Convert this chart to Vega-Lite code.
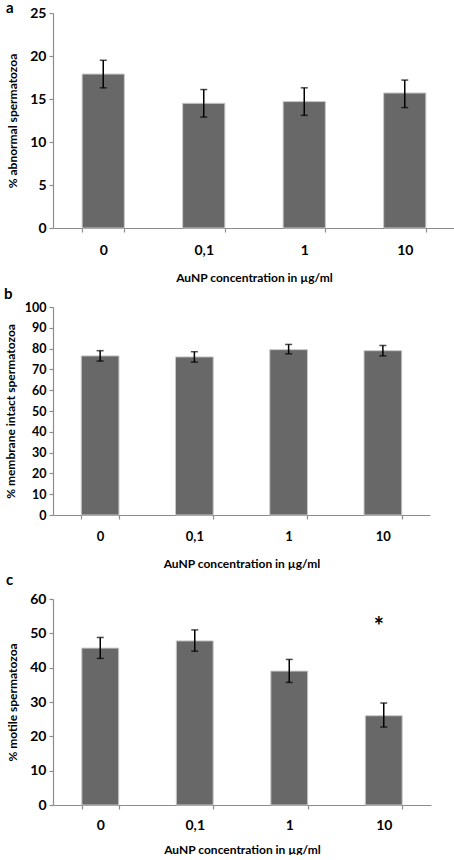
{
  "$schema": "https://vega.github.io/schema/vega-lite/v6.json",
  "padding": {"left": 4, "top": 1, "right": 0, "bottom": 0},
  "spacing": 4,
  "config": {
    "view": {"stroke": null},
    "font": "Lato",
    "axis": {
      "labelFont": "Lato", "labelFontWeight": "bold", "labelColor": "#000000",
      "titleFont": "Lato", "titleFontWeight": "bold", "titleColor": "#000000",
      "domainColor": "#8c8c8c", "tickColor": "#8c8c8c", "grid": false,
      "tickSize": 4, "domainWidth": 1.2, "tickWidth": 1.2, "labelOverlap": false
    },
    "title": {"font": "Lato", "fontWeight": "bold", "fontSize": 15, "anchor": "start", "frame": "bounds", "color": "#000000"}
  },
  "datasets": {
    "a": [
      {"conc": "0", "mean": 17.9, "lo": 16.3, "hi": 19.5},
      {"conc": "0,1", "mean": 14.5, "lo": 12.9, "hi": 16.1},
      {"conc": "1", "mean": 14.7, "lo": 13.1, "hi": 16.3},
      {"conc": "10", "mean": 15.7, "lo": 14.0, "hi": 17.2}
    ],
    "b": [
      {"conc": "0", "mean": 76.5, "lo": 74.0, "hi": 79.0},
      {"conc": "0,1", "mean": 76.0, "lo": 73.5, "hi": 78.5},
      {"conc": "1", "mean": 79.5, "lo": 77.5, "hi": 82.0},
      {"conc": "10", "mean": 79.0, "lo": 76.5, "hi": 81.5}
    ],
    "c": [
      {"conc": "0", "mean": 45.7, "lo": 42.7, "hi": 48.8},
      {"conc": "0,1", "mean": 47.8, "lo": 44.8, "hi": 51.0},
      {"conc": "1", "mean": 39.0, "lo": 35.7, "hi": 42.4},
      {"conc": "10", "mean": 26.0, "lo": 22.7, "hi": 29.7}
    ],
    "star": [{"conc": "10", "y": 53, "label": "*"}]
  },
  "vconcat": [
    {
      "title": {"text": "a", "offset": -10},
      "width": 402, "height": 215,
      "data": {"name": "a"},
      "encoding": {
        "x": {"field": "conc", "type": "nominal", "sort": ["0", "0,1", "1", "10"],
          "scale": {"paddingInner": 0.58, "paddingOuter": 0.29},
          "axis": {"title": "AuNP concentration in µg/ml", "titleFontSize": 12, "labelFontSize": 14, "labelAngle": 0, "tickBand": "extent", "labelPadding": 11, "titlePadding": 15}}
      },
      "layer": [
        {"mark": {"type": "bar", "color": "#686868", "stroke": "#c8c8c8", "strokeWidth": 1},
          "encoding": {"y": {"field": "mean", "type": "quantitative", "scale": {"domain": [0, 25], "nice": false},
            "axis": {"title": "% abnormal spermatozoa", "titleFontSize": 12, "labelFontSize": 14, "values": [0, 5, 10, 15, 20, 25], "labelOverlap": false, "labelPadding": 3, "minExtent": 24, "maxExtent": 24, "titlePadding": 10}}}},
        {"mark": {"type": "rule", "color": "#000000", "strokeWidth": 1.5},
          "encoding": {"y": {"field": "lo", "type": "quantitative",
            "axis": {"title": "% abnormal spermatozoa", "titleFontSize": 12, "labelFontSize": 14, "values": [0, 5, 10, 15, 20, 25], "labelOverlap": false, "labelPadding": 3, "minExtent": 24, "maxExtent": 24, "titlePadding": 10}}, "y2": {"field": "hi"}}},
        {"mark": {"type": "tick", "color": "#000000", "thickness": 1.5, "size": 7},
          "encoding": {"y": {"field": "lo", "type": "quantitative",
            "axis": {"title": "% abnormal spermatozoa", "titleFontSize": 12, "labelFontSize": 14, "values": [0, 5, 10, 15, 20, 25], "labelOverlap": false, "labelPadding": 3, "minExtent": 24, "maxExtent": 24, "titlePadding": 10}}}},
        {"mark": {"type": "tick", "color": "#000000", "thickness": 1.5, "size": 7},
          "encoding": {"y": {"field": "hi", "type": "quantitative",
            "axis": {"title": "% abnormal spermatozoa", "titleFontSize": 12, "labelFontSize": 14, "values": [0, 5, 10, 15, 20, 25], "labelOverlap": false, "labelPadding": 3, "minExtent": 24, "maxExtent": 24, "titlePadding": 10}}}}
      ]
    },
    {
      "title": {"text": "b", "offset": -1},
      "width": 377, "height": 208,
      "data": {"name": "b"},
      "encoding": {
        "x": {"field": "conc", "type": "nominal", "sort": ["0", "0,1", "1", "10"],
          "scale": {"paddingInner": 0.6, "paddingOuter": 0.3},
          "axis": {"title": "AuNP concentration in µg/ml", "titleFontSize": 12, "labelFontSize": 13, "labelAngle": 0, "tickBand": "extent", "labelPadding": 11, "titlePadding": 15}}
      },
      "layer": [
        {"mark": {"type": "bar", "color": "#686868", "stroke": "#c8c8c8", "strokeWidth": 1},
          "encoding": {"y": {"field": "mean", "type": "quantitative", "scale": {"domain": [0, 100], "nice": false},
            "axis": {"title": "% membrane intact spermatozoa", "titleFontSize": 12, "labelFontSize": 12.5, "values": [0, 10, 20, 30, 40, 50, 60, 70, 80, 90, 100], "labelOverlap": false, "labelPadding": 3, "minExtent": 28, "maxExtent": 28, "titlePadding": 8}}}},
        {"mark": {"type": "rule", "color": "#000000", "strokeWidth": 1.5},
          "encoding": {"y": {"field": "lo", "type": "quantitative",
            "axis": {"title": "% membrane intact spermatozoa", "titleFontSize": 12, "labelFontSize": 12.5, "values": [0, 10, 20, 30, 40, 50, 60, 70, 80, 90, 100], "labelOverlap": false, "labelPadding": 3, "minExtent": 28, "maxExtent": 28, "titlePadding": 8}}, "y2": {"field": "hi"}}},
        {"mark": {"type": "tick", "color": "#000000", "thickness": 1.5, "size": 7},
          "encoding": {"y": {"field": "lo", "type": "quantitative",
            "axis": {"title": "% membrane intact spermatozoa", "titleFontSize": 12, "labelFontSize": 12.5, "values": [0, 10, 20, 30, 40, 50, 60, 70, 80, 90, 100], "labelOverlap": false, "labelPadding": 3, "minExtent": 28, "maxExtent": 28, "titlePadding": 8}}}},
        {"mark": {"type": "tick", "color": "#000000", "thickness": 1.5, "size": 7},
          "encoding": {"y": {"field": "hi", "type": "quantitative",
            "axis": {"title": "% membrane intact spermatozoa", "titleFontSize": 12, "labelFontSize": 12.5, "values": [0, 10, 20, 30, 40, 50, 60, 70, 80, 90, 100], "labelOverlap": false, "labelPadding": 3, "minExtent": 28, "maxExtent": 28, "titlePadding": 8}}}}
      ]
    },
    {
      "title": {"text": "c", "offset": 4},
      "width": 378, "height": 206,
      "encoding": {
        "x": {"field": "conc", "type": "nominal", "sort": ["0", "0,1", "1", "10"],
          "scale": {"paddingInner": 0.61, "paddingOuter": 0.305},
          "axis": {"title": "AuNP concentration in µg/ml", "titleFontSize": 12, "labelFontSize": 14, "labelAngle": 0, "tickBand": "extent", "labelPadding": 9, "titlePadding": 12}}
      },
      "layer": [
        {"data": {"name": "c"}, "mark": {"type": "bar", "color": "#686868", "stroke": "#c8c8c8", "strokeWidth": 1},
          "encoding": {"y": {"field": "mean", "type": "quantitative", "scale": {"domain": [0, 60], "nice": false},
            "axis": {"title": "% motile spermatozoa", "titleFontSize": 12, "labelFontSize": 14, "values": [0, 10, 20, 30, 40, 50, 60], "labelOverlap": false, "labelPadding": 3, "minExtent": 24, "maxExtent": 24, "titlePadding": 10}}}},
        {"data": {"name": "c"}, "mark": {"type": "rule", "color": "#000000", "strokeWidth": 1.5},
          "encoding": {"y": {"field": "lo", "type": "quantitative",
            "axis": {"title": "% motile spermatozoa", "titleFontSize": 12, "labelFontSize": 14, "values": [0, 10, 20, 30, 40, 50, 60], "labelOverlap": false, "labelPadding": 3, "minExtent": 24, "maxExtent": 24, "titlePadding": 10}}, "y2": {"field": "hi"}}},
        {"data": {"name": "c"}, "mark": {"type": "tick", "color": "#000000", "thickness": 1.5, "size": 7},
          "encoding": {"y": {"field": "lo", "type": "quantitative",
            "axis": {"title": "% motile spermatozoa", "titleFontSize": 12, "labelFontSize": 14, "values": [0, 10, 20, 30, 40, 50, 60], "labelOverlap": false, "labelPadding": 3, "minExtent": 24, "maxExtent": 24, "titlePadding": 10}}}},
        {"data": {"name": "c"}, "mark": {"type": "tick", "color": "#000000", "thickness": 1.5, "size": 7},
          "encoding": {"y": {"field": "hi", "type": "quantitative",
            "axis": {"title": "% motile spermatozoa", "titleFontSize": 12, "labelFontSize": 14, "values": [0, 10, 20, 30, 40, 50, 60], "labelOverlap": false, "labelPadding": 3, "minExtent": 24, "maxExtent": 24, "titlePadding": 10}}}},
        {"data": {"name": "star"}, "mark": {"type": "text", "fontSize": 24, "fontWeight": "bold", "baseline": "middle", "dy": 5, "dx": -5, "color": "#000000"},
          "encoding": {"y": {"field": "y", "type": "quantitative",
            "axis": {"title": "% motile spermatozoa", "titleFontSize": 12, "labelFontSize": 14, "values": [0, 10, 20, 30, 40, 50, 60], "labelOverlap": false, "labelPadding": 3, "minExtent": 24, "maxExtent": 24, "titlePadding": 10}}, "text": {"field": "label"}}}
      ]
    }
  ]
}
